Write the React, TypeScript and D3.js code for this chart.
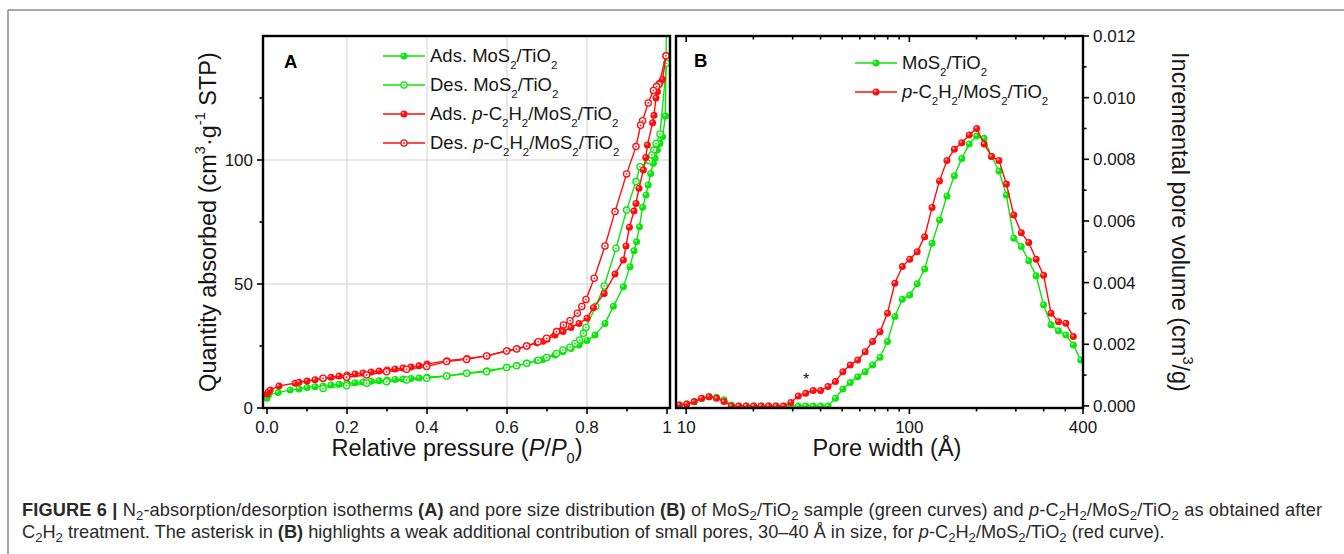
import React from 'react';
import * as d3 from 'd3';

// ---------- Panel A: N2 isotherms (P/P0, quantity adsorbed) ----------
const pGreenAds = [0.0, 0.005, 0.028, 0.058, 0.08, 0.1, 0.12, 0.14, 0.16, 0.18, 0.2, 0.22, 0.24, 0.26, 0.28, 0.3, 0.32, 0.34, 0.36, 0.38, 0.4, 0.45, 0.5, 0.55, 0.6, 0.625, 0.65, 0.675, 0.69, 0.7, 0.72, 0.74, 0.76, 0.78, 0.8, 0.82, 0.845, 0.866, 0.891, 0.9075, 0.9175, 0.924, 0.931, 0.939, 0.9475, 0.953, 0.959, 0.966, 0.97, 0.976, 0.9825, 0.989, 0.996, 0.999];
const qGreenAds = [3.9, 5.4, 6.2, 7.3, 7.7, 8.3, 8.6, 8.9, 9.3, 9.6, 10.0, 10.2, 10.5, 10.8, 11.0, 11.3, 11.5, 11.7, 11.9, 12.1, 12.4, 12.9, 14.0, 15.0, 16.4, 17.1, 18.0, 19.1, 19.6, 20.3, 21.4, 22.7, 24.0, 25.4, 27.2, 29.4, 34.1, 41.0, 48.9, 57.0, 63.4, 67.0, 73.1, 80.9, 85.9, 89.9, 94.6, 98.7, 100.7, 104.0, 106.7, 109.4, 117.7, 160];

const pGreenDes = [0.999, 0.9825, 0.9725, 0.967, 0.962, 0.956, 0.9325, 0.9225, 0.899, 0.8725, 0.843, 0.822, 0.7975, 0.791, 0.781, 0.77, 0.7575, 0.74, 0.724, 0.699, 0.678, 0.649, 0.624, 0.599, 0.549, 0.499, 0.449, 0.399, 0.349, 0.299, 0.249, 0.199, 0.14];
const qGreenDes = [139, 110.5, 106.7, 104.0, 102.0, 99.7, 97.3, 91.3, 79.8, 64.4, 49.2, 41.0, 32.5, 30.1, 27.4, 26.0, 24.5, 23.4, 22.0, 20.4, 19.3, 18.0, 17.0, 16.3, 14.6, 14.0, 12.9, 12.0, 11.3, 10.6, 10.0, 9.0, 7.9];

const pRedAds = [0.0, 0.003, 0.008, 0.03, 0.07, 0.08, 0.1, 0.12, 0.14, 0.16, 0.18, 0.2, 0.22, 0.24, 0.26, 0.28, 0.3, 0.32, 0.34, 0.36, 0.38, 0.4, 0.45, 0.5, 0.55, 0.6, 0.625, 0.65, 0.675, 0.69, 0.7, 0.72, 0.74, 0.76, 0.78, 0.8, 0.816, 0.843, 0.87, 0.891, 0.8975, 0.906, 0.9175, 0.9225, 0.93, 0.941, 0.947, 0.951, 0.964, 0.9675, 0.9725, 0.976, 0.9825, 0.989, 0.9975];
const qRedAds = [5.5, 6.5, 7.3, 8.9, 10.0, 10.4, 10.9, 11.4, 11.9, 12.4, 12.9, 13.3, 13.7, 14.1, 14.5, 14.9, 15.3, 15.7, 16.1, 16.5, 17.0, 17.7, 19.1, 20.0, 21.0, 23.1, 23.9, 25.0, 26.3, 26.9, 27.7, 29.4, 30.8, 32.5, 34.1, 36.2, 40.4, 46.2, 54.0, 59.7, 65.3, 72.9, 79.4, 82.5, 88.6, 96.0, 101.0, 106.0, 115.0, 118.0, 125.0, 127.5, 131.0, 132.5, 142.0];

const pRedDes = [0.9975, 0.98, 0.974, 0.966, 0.953, 0.939, 0.934, 0.9225, 0.899, 0.87, 0.845, 0.818, 0.7975, 0.787, 0.776, 0.7575, 0.741, 0.724, 0.699, 0.678, 0.649, 0.624, 0.599, 0.549, 0.499, 0.449, 0.399, 0.349, 0.299, 0.249, 0.199, 0.14];
const qRedDes = [142.0, 130.5, 129.6, 128.0, 123.0, 115.8, 114.0, 105.4, 94.4, 79.2, 65.3, 52.3, 43.8, 40.9, 38.2, 35.2, 33.5, 30.8, 28.1, 26.7, 25.0, 23.8, 23.0, 21.0, 19.6, 18.7, 16.7, 15.6, 14.6, 13.3, 12.4, 12.0];

// ---------- Panel B: pore size distribution ----------
const poreWidth = [9.31, 10.06, 10.86, 11.72, 12.66, 13.67, 14.76, 15.93, 17.2, 18.57, 20.06, 21.65, 23.38, 25.25, 27.26, 29.43, 31.78, 34.31, 37.05, 40.0, 43.19, 46.63, 50.35, 54.36, 58.7, 63.4, 68.4, 73.9, 79.8, 86.1, 93.0, 100.4, 108.4, 117.1, 126.4, 136.5, 147.4, 159.1, 171.8, 185.5, 200.3, 216.3, 233.5, 252.1, 272.2, 293.9, 317.4, 342.7, 370.0, 399.5, 431.3, 465.7, 502.9, 543.0, 586.3];
const volGreen = [0.00003, 0.00006, 0.00013, 0.00023, 0.0003, 0.00028, 0.0002, 0.00003, 0, 0, 0, 0, 0, 0, 0, 0, 0, 0, 0, 0, 0, 0.00025, 0.00055, 0.00076, 0.00095, 0.00111, 0.00133, 0.00158, 0.00209, 0.0029, 0.00346, 0.0036, 0.00396, 0.00444, 0.00528, 0.00603, 0.00681, 0.00747, 0.00803, 0.0085, 0.00876, 0.00868, 0.00809, 0.00762, 0.00684, 0.00544, 0.00517, 0.00471, 0.00422, 0.00328, 0.00263, 0.00244, 0.0023, 0.00198, 0.00149];
const volRed = [0.00003, 0.00006, 0.00014, 0.00025, 0.0003, 0.00025, 0.00014, 0, 0, 0, 0, 0, 0, 0, 0, 0.00011, 0.00032, 0.00041, 0.0005, 0.0005, 0.00063, 0.00079, 0.00111, 0.00133, 0.00149, 0.00176, 0.00209, 0.00241, 0.00301, 0.00398, 0.00452, 0.00476, 0.005, 0.00549, 0.00644, 0.0073, 0.00796, 0.00833, 0.00854, 0.00879, 0.009, 0.0085, 0.00809, 0.00796, 0.0072, 0.00619, 0.00562, 0.0053, 0.00476, 0.00424, 0.00301, 0.00273, 0.00268, 0.00225];

// ---------- ticks ----------
const xTicksA = [0, 0.2, 0.4, 0.6, 0.8, 1.0];
const xTickLabelsA = ['0.0', '0.2', '0.4', '0.6', '0.8', '1'];
const xMinorA = [0.1, 0.3, 0.5, 0.7, 0.9];
const yTicksA = [0, 50, 100];
const yMinorA = [25, 75, 125];
const xGridA = [0.2, 0.4, 0.6, 0.8];
const yGridA = [50, 100];

const xTicksB = [10, 100, 600];
const xTickLabelsB = ['10', '100', '400'];
const xMinorB = [20, 30, 40, 50, 60, 70, 80, 90, 200, 300, 400, 500];
const yTicksB = [0, 0.002, 0.004, 0.006, 0.008, 0.01, 0.012];
const yMinorB = [0.001, 0.003, 0.005, 0.007, 0.009, 0.011];

const GREEN = '#0ae60a';
const RED = '#ff0d0d';
const FONT = "'Liberation Sans', Arial, Helvetica, sans-serif";
const INK = '#161616';

type Seg = { t: string; s?: 'sub' | 'sup'; i?: boolean; b?: boolean };

function spans(segs: Seg[], size: number, subShift = 0.36, supShift = 0.45, ratio = 0.62) {
  let shift = 0;
  return segs.map((sg, k) => {
    const target = sg.s === 'sub' ? size * subShift : sg.s === 'sup' ? -size * supShift : 0;
    const dy = target - shift;
    shift = target;
    return (
      <tspan
        key={k}
        dy={dy !== 0 ? dy : undefined}
        fontSize={sg.s ? size * ratio : undefined}
        fontStyle={sg.i ? 'italic' : undefined}
        fontWeight={sg.b ? 'bold' : undefined}
      >
        {sg.t}
      </tspan>
    );
  });
}

const MoSTiO: Seg[] = [{ t: 'MoS' }, { t: '2', s: 'sub' }, { t: '/TiO' }, { t: '2', s: 'sub' }];
const pC2H2: Seg[] = [{ t: 'p', i: true }, { t: '-C' }, { t: '2', s: 'sub' }, { t: 'H' }, { t: '2', s: 'sub' }, { t: '/' }, ...MoSTiO];

function Marker({ x, y, color, open }: { x: number; y: number; color: string; open?: boolean }) {
  if (open) {
    return (
      <g>
        <circle cx={x} cy={y} r={3.1} fill="#fff" stroke={color} strokeWidth={1.3} />
        <circle cx={x} cy={y} r={0.9} fill={color} />
      </g>
    );
  }
  return (
    <g>
      <circle cx={x} cy={y} r={3.5} fill={color} />
      <circle cx={x - 0.9} cy={y - 1.0} r={1.2} fill="#fff" opacity={0.55} />
    </g>
  );
}

function Series({ xs, ys, sx, sy, color, open }: any) {
  const pts: [number, number][] = xs.map((v: number, i: number) => [sx(v), sy(ys[i])]);
  const line = d3.line()(pts) || '';
  return (
    <g>
      <path d={line} fill="none" stroke={color} strokeWidth={1.4} />
      {pts.map((p, i) => (
        <Marker key={i} x={p[0]} y={p[1]} color={color} open={open} />
      ))}
    </g>
  );
}

export default function App() {
  const A = { l: 263, r: 670, t: 36, b: 408 };
  const B = { l: 676, r: 1083, t: 36, b: 408 };
  const xA = d3.scaleLinear().domain([-0.01, 1.0075]).range([A.l, A.r]);
  const yA = d3.scaleLinear().domain([0, 150]).range([A.b, A.t]);
  const xB = d3.scaleLog().domain([9, 600]).range([B.l, B.r]);
  const yB = d3.scaleLinear().domain([-0.0001, 0.012]).range([409, B.t]);

  const tickFont = 17;
  const titleFont = 23.5;
  const capFont = 18.2;
  const legendA = [
    { segs: [{ t: 'Ads. ' }, ...MoSTiO], color: GREEN, open: false },
    { segs: [{ t: 'Des. ' }, ...MoSTiO], color: GREEN, open: true },
    { segs: [{ t: 'Ads. ' }, ...pC2H2], color: RED, open: false },
    { segs: [{ t: 'Des. ' }, ...pC2H2], color: RED, open: true },
  ];
  const legendB = [
    { segs: MoSTiO, color: GREEN },
    { segs: pC2H2, color: RED },
  ];

  const cap1: Seg[] = [
    { t: 'FIGURE 6 | ', b: true }, { t: 'N' }, { t: '2', s: 'sub' }, { t: '-absorption/desorption isotherms ' }, { t: '(A)', b: true },
    { t: ' and pore size distribution ' }, { t: '(B)', b: true }, { t: ' of MoS' }, { t: '2', s: 'sub' }, { t: '/TiO' }, { t: '2', s: 'sub' },
    { t: ' sample (green curves) and ' }, { t: 'p', i: true }, { t: '-C' }, { t: '2', s: 'sub' }, { t: 'H' }, { t: '2', s: 'sub' },
    { t: '/MoS' }, { t: '2', s: 'sub' }, { t: '/TiO' }, { t: '2', s: 'sub' }, { t: ' as obtained after' },
  ];
  const cap2: Seg[] = [
    { t: 'C' }, { t: '2', s: 'sub' }, { t: 'H' }, { t: '2', s: 'sub' }, { t: ' treatment. The asterisk in ' }, { t: '(B)', b: true },
    { t: ' highlights a weak additional contribution of small pores, 30\u201340 \u00c5 in size, for ' }, { t: 'p', i: true },
    { t: '-C' }, { t: '2', s: 'sub' }, { t: 'H' }, { t: '2', s: 'sub' }, { t: '/MoS' }, { t: '2', s: 'sub' }, { t: '/TiO' }, { t: '2', s: 'sub' },
    { t: ' (red curve).' },
  ];

  return (
    <svg width={1344} height={554} style={{ position: 'absolute', left: 0, top: 0, display: 'block', background: '#fff' }} fontFamily={FONT}>
      <defs>
        <clipPath id="clipA">
          <rect x={A.l} y={A.t} width={A.r - A.l} height={A.b - A.t} />
        </clipPath>
        <clipPath id="clipB">
          <rect x={B.l} y={B.t - 4} width={B.r - B.l} height={B.b - B.t + 4} />
        </clipPath>
      </defs>

      {/* outer figure frame */}
      <line x1={8} x2={1344} y1={10} y2={10} stroke="#8a8a8a" strokeWidth={1.5} />
      <line x1={8} x2={8} y1={10} y2={554} stroke="#8a8a8a" strokeWidth={1.5} />

      {/* ===== Panel A ===== */}
      <g>
        {xGridA.map((v) => (
          <line key={'gx' + v} x1={xA(v)} x2={xA(v)} y1={A.t} y2={A.b} stroke="#d2d2d2" strokeWidth={1} />
        ))}
        {yGridA.map((v) => (
          <line key={'gy' + v} x1={A.l} x2={A.r} y1={yA(v)} y2={yA(v)} stroke="#d2d2d2" strokeWidth={1} />
        ))}
        <g clipPath="url(#clipA)">
          <Series xs={pGreenAds} ys={qGreenAds} sx={xA} sy={yA} color={GREEN} />
          <Series xs={pGreenDes} ys={qGreenDes} sx={xA} sy={yA} color={GREEN} open />
          <Series xs={pRedAds} ys={qRedAds} sx={xA} sy={yA} color={RED} />
          <Series xs={pRedDes} ys={qRedDes} sx={xA} sy={yA} color={RED} open />
        </g>
        <rect x={A.l} y={A.t} width={A.r - A.l} height={A.b - A.t} fill="none" stroke="#000" strokeWidth={2.4} />
        {xTicksA.map((v, i) => (
          <g key={'xa' + v}>
            <line x1={xA(v)} x2={xA(v)} y1={A.b} y2={A.b + 6} stroke="#000" strokeWidth={1.6} />
            <text x={xA(v)} y={433} fontSize={tickFont} textAnchor="middle" fill={INK}>{xTickLabelsA[i]}</text>
          </g>
        ))}
        {xMinorA.map((v) => (
          <line key={'xam' + v} x1={xA(v)} x2={xA(v)} y1={A.b} y2={A.b + 3.5} stroke="#000" strokeWidth={1.6} />
        ))}
        {yTicksA.map((v) => (
          <g key={'ya' + v}>
            <line x1={A.l - 6} x2={A.l} y1={yA(v)} y2={yA(v)} stroke="#000" strokeWidth={1.6} />
            <text x={A.l - 10} y={yA(v) + 6} fontSize={tickFont} textAnchor="end" fill={INK}>{v}</text>
          </g>
        ))}
        {yMinorA.map((v) => (
          <line key={'yam' + v} x1={A.l - 3.5} x2={A.l} y1={yA(v)} y2={yA(v)} stroke="#000" strokeWidth={1.6} />
        ))}
        <text x={284} y={68} fontSize={18.5} fontWeight="bold" fill="#000">A</text>
        {legendA.map((e, i) => {
          const y = 56 + i * 29;
          return (
            <g key={'la' + i}>
              <line x1={383} x2={425} y1={y} y2={y} stroke={e.color} strokeWidth={1.4} />
              <Marker x={404} y={y} color={e.color} open={e.open} />
              <text x={430} y={y + 6} fontSize={18.5} fill={INK}>{spans(e.segs as Seg[], 18.5)}</text>
            </g>
          );
        })}
        <text x={457} y={456} fontSize={titleFont} textAnchor="middle" fill={INK}>
          {spans([{ t: 'Relative pressure (' }, { t: 'P', i: true }, { t: '/' }, { t: 'P', i: true }, { t: '0', s: 'sub' }, { t: ')' }], titleFont, 0.3)}
        </text>
        <text transform="translate(216,222) rotate(-90)" fontSize={titleFont} textAnchor="middle" fill={INK}>
          {spans([{ t: 'Quantity absorbed (cm' }, { t: '3', s: 'sup' }, { t: '\u00b7g' }, { t: '-1', s: 'sup' }, { t: ' STP)' }], titleFont)}
        </text>
      </g>

      {/* ===== Panel B ===== */}
      <g>
        <g clipPath="url(#clipB)">
          <Series xs={poreWidth} ys={volGreen} sx={xB} sy={yB} color={GREEN} />
          <Series xs={poreWidth.slice(0, volRed.length)} ys={volRed} sx={xB} sy={yB} color={RED} />
        </g>
        <rect x={B.l} y={B.t} width={B.r - B.l} height={B.b - B.t} fill="none" stroke="#000" strokeWidth={2.4} />
        {xTicksB.map((v, i) => (
          <g key={'xb' + v}>
            <line x1={xB(v)} x2={xB(v)} y1={B.b} y2={B.b + 6} stroke="#000" strokeWidth={1.6} />
            <line x1={xB(v)} x2={xB(v)} y1={B.t} y2={B.t + 6} stroke="#000" strokeWidth={1.6} />
            <text x={xB(v)} y={433} fontSize={tickFont} textAnchor="middle" fill={INK}>{xTickLabelsB[i]}</text>
          </g>
        ))}
        {xMinorB.map((v) => (
          <g key={'xbm' + v}>
            <line x1={xB(v)} x2={xB(v)} y1={B.b} y2={B.b + 3.5} stroke="#000" strokeWidth={1.6} />
            <line x1={xB(v)} x2={xB(v)} y1={B.t} y2={B.t + 3.5} stroke="#000" strokeWidth={1.6} />
          </g>
        ))}
        {yTicksB.map((v) => (
          <g key={'yb' + v}>
            <line x1={B.r} x2={B.r + 6} y1={yB(v)} y2={yB(v)} stroke="#000" strokeWidth={1.6} />
            <text x={B.r + 10} y={yB(v) + 6} fontSize={tickFont} textAnchor="start" fill={INK}>{d3.format('.3f')(v)}</text>
          </g>
        ))}
        {yMinorB.map((v) => (
          <line key={'ybm' + v} x1={B.r} x2={B.r + 3.5} y1={yB(v)} y2={yB(v)} stroke="#000" strokeWidth={1.6} />
        ))}
        <text x={694} y={67} fontSize={18.5} fontWeight="bold" fill="#000">B</text>
        {legendB.map((e, i) => {
          const y = 63 + i * 29;
          return (
            <g key={'lb' + i}>
              <line x1={855} x2={897} y1={y} y2={y} stroke={e.color} strokeWidth={1.4} />
              <Marker x={876} y={y} color={e.color} />
              <text x={902} y={y + 6} fontSize={18.5} fill={INK}>{spans(e.segs as Seg[], 18.5)}</text>
            </g>
          );
        })}
        <text x={806} y={385} fontSize={16} textAnchor="middle" fill={INK}>*</text>
        <text x={887} y={456} fontSize={titleFont} textAnchor="middle" fill={INK}>{'Pore width (\u00c5)'}</text>
        <text transform="translate(1172,222) rotate(90)" fontSize={titleFont} textAnchor="middle" fill={INK}>
          {spans([{ t: 'Incremental pore volume (cm' }, { t: '3', s: 'sup' }, { t: '/g)' }], titleFont)}
        </text>
      </g>

      {/* ===== Caption ===== */}
      <text x={22} y={516} fontSize={capFont} fill="#2a2a2a" textLength={1300} lengthAdjust="spacing">
        {spans(cap1, capFont, 0.22, 0.4, 0.72)}
      </text>
      <text x={22} y={538} fontSize={capFont} fill="#2a2a2a">
        {spans(cap2, capFont, 0.22, 0.4, 0.72)}
      </text>
    </svg>
  );
}
